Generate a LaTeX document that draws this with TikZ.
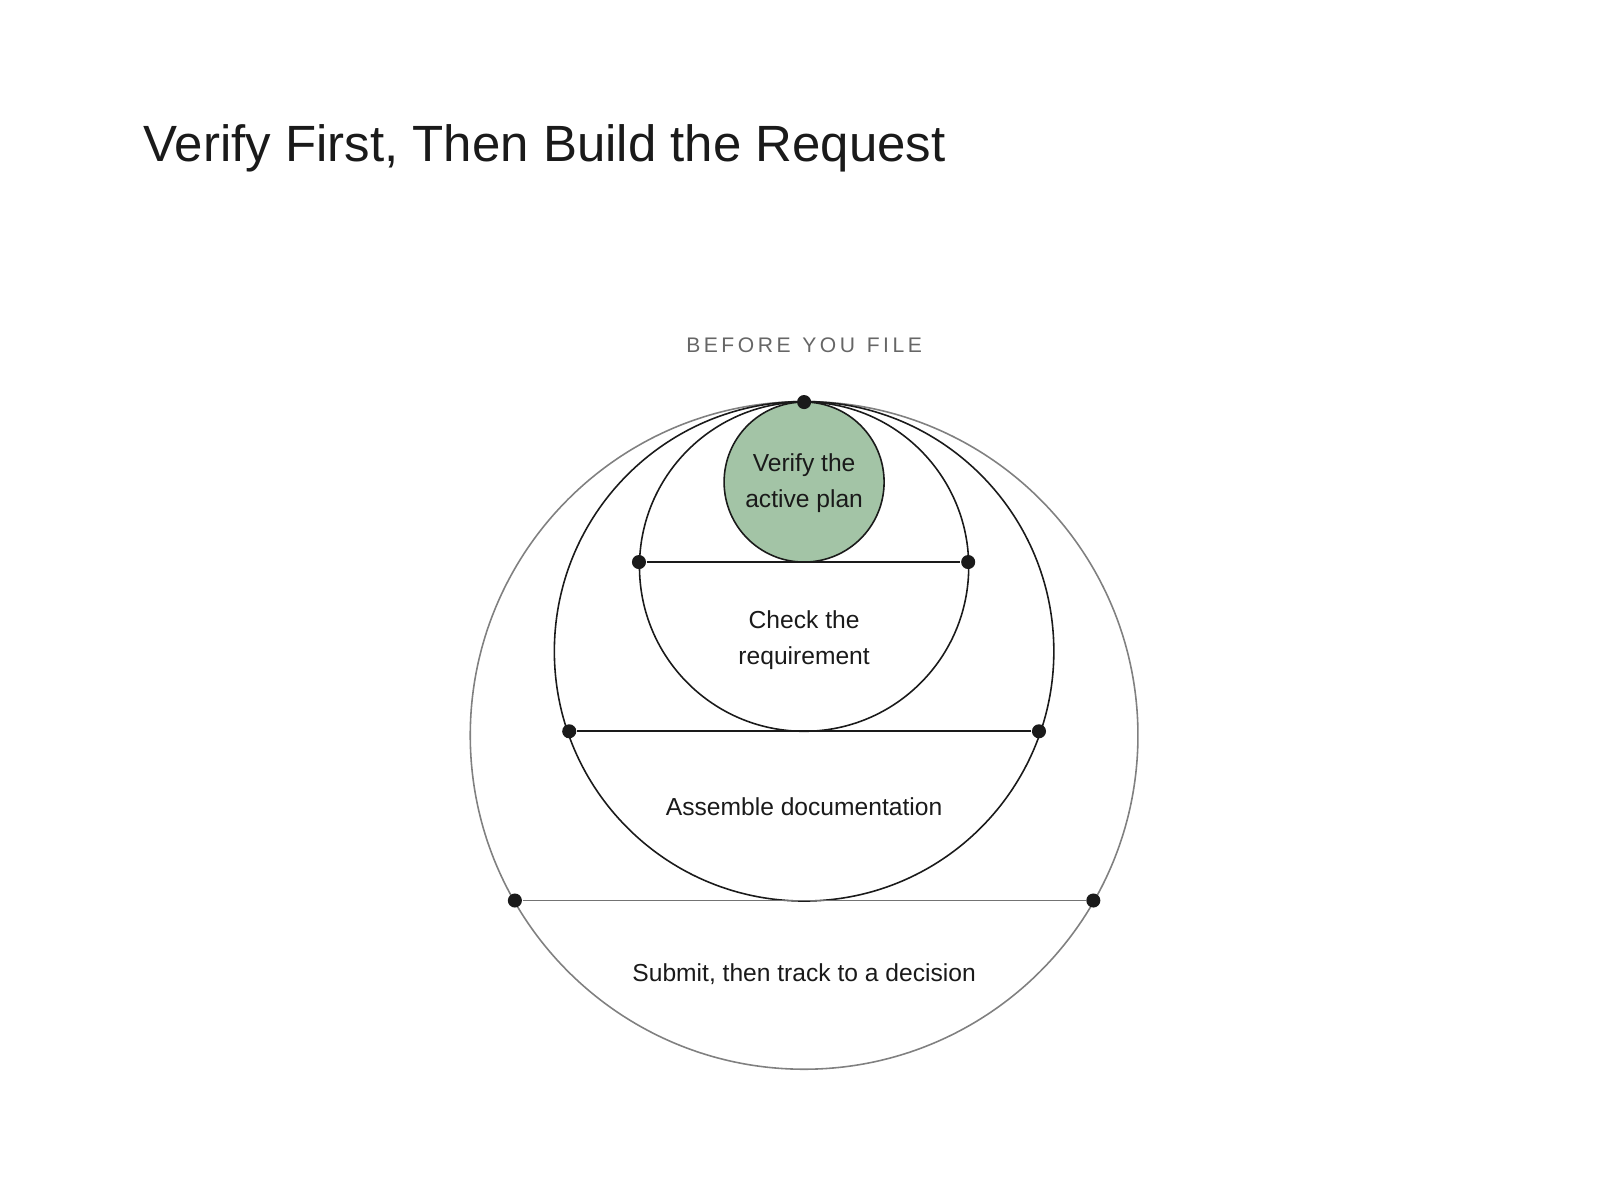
\documentclass[tikz,border=0pt]{standalone}
\usepackage{fontspec}
\setmainfont{Liberation Sans}
\definecolor{ink}{HTML}{1A1A1A}
\definecolor{sage}{HTML}{A3C4A6}
\begin{document}
\begin{tikzpicture}[x=0.010256cm,y=-0.010256cm,
  ring/.style={draw=ink,line width=0.45pt},
  chord/.style={draw=ink,line width=0.45pt},
  dot/.style={circle,fill=ink,inner sep=0pt,minimum size=4pt},
  lbl/.style={font=\fontsize{7pt}{10.2pt}\selectfont,text=ink,align=center}]
\useasboundingbox (0,0) rectangle (1560,1170);
\node[anchor=base west,font=\fontsize{14.5pt}{17pt}\selectfont,text=ink] (title) at (128,157) {Verify First, Then Build the Request};
\node[font=\fontsize{6pt}{7pt}\selectfont,text=black!60] (hdr) at (784,337) {B\,E\,F\,O\,R\,E\ \ Y\,O\,U\ \ F\,I\,L\,E};
\draw[draw=black!50,line width=0.45pt] (784,717) circle (325.5);
\draw[ring] (784,635) circle (243.5);
\draw[ring] (784,552.5) circle (160.5);
\node[circle,draw=ink,fill=sage,line width=0.45pt,minimum size=156*0.010256cm,inner sep=0pt] (g) at (784,470) {};
\node[lbl] at (784,471) {Verify the\\active plan};
\node[dot] (a1) at (623,548) {}; \node[dot] (a2) at (944,548) {};
\node[dot] (b1) at (555,713) {}; \node[dot] (b2) at (1013,713) {};
\node[dot] (c1) at (502,878) {}; \node[dot] (c2) at (1066,878) {};
\node[dot] (top) at (784,392) {};
\draw[chord] (a1) -- (a2);
\draw[chord] (b1) -- (b2);
\draw[draw=black!55,line width=0.45pt] (c1) -- (c2);
\node[lbl] at (784,624) {Check the\\requirement};
\node[lbl] at (784,787) {Assemble documentation};
\node[lbl] at (784,950) {Submit, then track to a decision};
\end{tikzpicture}
\end{document}
